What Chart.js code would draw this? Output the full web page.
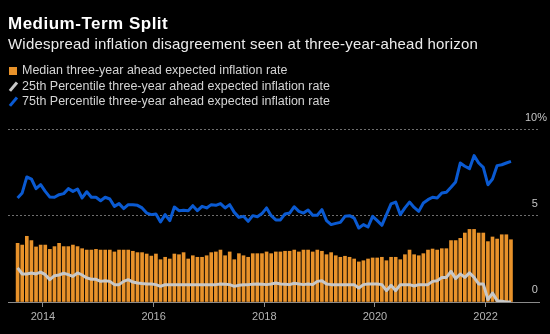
<!DOCTYPE html>
<html>
<head>
<meta charset="utf-8">
<script src="https://cdn.jsdelivr.net/npm/chart.js@4.4.0/dist/chart.umd.min.js"></script>
<style>
  html, body { margin: 0; padding: 0; background: #000; }
  body { width: 550px; height: 334px; position: relative; overflow: hidden;
         font-family: "Liberation Sans", Arial, sans-serif; }
  #chart { position: absolute; left: 0; top: 0; }
  .title { position: absolute; left: 8px; top: 14px; font-size: 17px; line-height: 20px;
           font-weight: bold; color: #fff; letter-spacing: 0.5px; white-space: nowrap; }
  .subtitle { position: absolute; left: 8px; top: 35px; font-size: 15px; line-height: 18px;
              color: #ececec; letter-spacing: 0.2px; white-space: nowrap; }
  .legend { position: absolute; left: 8px; top: 63px; font-size: 12.5px; line-height: 15.5px;
            color: #d4d4d4; white-space: nowrap; }
  .legend div { position: relative; padding-left: 14px; }
  .sq { position: absolute; left: 1px; top: 4px; width: 8px; height: 8px; background: #e8922a; }
  .sl { position: absolute; left: 4px; top: 2px; width: 2.5px; height: 11px; transform: rotate(40deg); }
</style>
</head>
<body>
<canvas id="chart" width="550" height="334"></canvas>
<div class="title">Medium-Term Split</div>
<div class="subtitle">Widespread inflation disagreement seen at three-year-ahead horizon</div>
<div class="legend">
  <div><span class="sq"></span>Median three-year ahead expected inflation rate</div>
  <div><span class="sl" style="background:#c8c8c8"></span>25th Percentile three-year ahead expected inflation rate</div>
  <div><span class="sl" style="background:#0a5ad2"></span>75th Percentile three-year ahead expected inflation rate</div>
</div>
<script>
// Datos mensuales, jul-2013 a jun-2022 (108 meses), en %
const median = [
    3.41, 3.31, 3.82, 3.57, 3.20, 3.31, 3.31, 3.06, 3.22, 3.41, 3.22, 3.22, 3.31, 3.22, 3.10, 3.02, 3.02, 3.06, 3.02, 3.02, 3.02,
    2.91, 3.02, 3.02, 3.02, 2.95, 2.87, 2.87, 2.79, 2.67, 2.79, 2.46, 2.60, 2.50, 2.79, 2.75, 2.87, 2.50, 2.69, 2.60, 2.60, 2.69, 2.87,
    2.91, 3.02, 2.69, 2.91, 2.46, 2.81, 2.69, 2.60, 2.81, 2.81, 2.81, 2.91, 2.81, 2.91, 2.91, 2.95, 2.95, 3.02, 2.91, 3.02, 3.02,
    2.91, 3.02, 2.95, 2.75, 2.87, 2.69, 2.60, 2.66, 2.60, 2.50, 2.33, 2.40, 2.50, 2.56, 2.56, 2.60, 2.40, 2.60, 2.60, 2.46, 2.75, 3.02,
    2.75, 2.69, 2.81, 3.02, 3.08, 3.02, 3.10, 3.10, 3.57, 3.57, 3.70, 4.01, 4.22, 4.22, 4.01, 4.01, 3.51, 3.78, 3.66, 3.91, 3.91, 3.62
];
const p25 = [
    1.98, 1.63, 1.63, 1.69, 1.63, 1.74, 1.59, 1.30, 1.53, 1.57, 1.67, 1.59, 1.49, 1.69, 1.57, 1.40, 1.32, 1.32, 1.20, 1.24, 1.20,
    1.01, 1.01, 1.20, 1.30, 1.16, 1.10, 1.07, 1.05, 1.05, 1.01, 0.91, 1.01, 1.01, 1.01, 1.01, 1.01, 1.01, 1.01, 1.01, 1.01, 1.01, 1.01,
    1.01, 1.05, 1.03, 1.01, 0.91, 0.97, 1.00, 1.01, 1.03, 1.05, 1.03, 1.01, 1.05, 1.10, 1.05, 1.03, 1.01, 1.09, 1.05, 1.01, 1.05,
    1.01, 1.20, 1.24, 1.05, 1.01, 1.01, 1.01, 1.01, 1.01, 1.01, 0.81, 1.01, 1.05, 1.05, 1.05, 1.01, 0.66, 0.97, 0.66, 1.01, 1.01, 1.01,
    0.93, 1.01, 1.01, 1.01, 1.20, 1.24, 1.43, 1.43, 1.78, 1.36, 1.63, 1.43, 1.69, 1.43, 1.05, 1.05, 0.14, 0.52, 0.08, 0.04, 0.00, 0.00
];
const p75 = [
    6.05, 6.34, 7.27, 7.15, 6.59, 6.82, 6.43, 6.10, 6.09, 6.24, 6.30, 6.59, 6.43, 6.57, 6.05, 6.41, 6.09, 6.09, 5.89, 6.09, 5.99,
    5.56, 5.72, 5.43, 5.66, 5.66, 5.62, 5.47, 5.17, 5.08, 5.12, 4.65, 5.08, 4.73, 5.52, 5.31, 5.33, 5.31, 5.60, 5.31, 5.56, 5.47, 5.66,
    5.62, 5.72, 5.47, 5.66, 5.21, 4.92, 4.98, 4.69, 5.02, 4.96, 5.14, 5.47, 5.02, 4.77, 4.77, 5.12, 5.17, 5.54, 5.27, 5.17, 5.35,
    5.04, 5.04, 5.37, 4.73, 4.50, 4.57, 4.63, 4.98, 5.02, 4.88, 4.30, 4.50, 4.36, 4.98, 4.73, 4.46, 5.08, 5.70, 5.81, 5.08, 5.47, 5.81,
    5.50, 5.27, 5.76, 5.95, 6.09, 6.05, 6.34, 6.38, 6.67, 6.98, 8.08, 7.89, 7.75, 8.51, 8.08, 7.83, 6.82, 7.15, 7.93, 7.98, 8.08, 8.18
];

// Ejes: enero de cada año par (índice de mes desde jul-2013)
const yearLabels = ['2014', '2016', '2018', '2020', '2022'];
const yearMonthIdx = [6, 30, 54, 78, 102];
const yTicks = [0, 5, 10];
const yLabels = ['0\u2007 ', '5\u2007 ', '10%'];

const ORANGE = '#e8922a';
const GRAY = '#c8c8c8';
const BLUE = '#0a5ad2';

// cada punto se pinta a mitad de mes
const toPoints = arr => arr.map((v, i) => ({ x: i + 0.5, y: v }));

const ctx = document.getElementById('chart').getContext('2d');
const chart = new Chart(ctx, {
    type: 'bar',
    data: {
        datasets: [
            {
                type: 'line',
                label: '75th Percentile',
                data: toPoints(p75),
                borderColor: BLUE,
                borderWidth: 3,
                pointRadius: 0,
                tension: 0,
                borderJoinStyle: 'round',
                order: 0
            },
            {
                type: 'line',
                label: '25th Percentile',
                data: toPoints(p25),
                borderColor: GRAY,
                borderWidth: 3,
                pointRadius: 0,
                tension: 0,
                borderJoinStyle: 'round',
                order: 1
            },
            {
                label: 'Median',
                data: toPoints(median),
                backgroundColor: ORANGE,
                barThickness: 3,
                order: 2
            }
        ]
    },
    options: {
        responsive: false,
        animation: false,
        devicePixelRatio: 1,
        layout: { padding: { left: 8, right: 0, top: 122, bottom: 0 } },
        plugins: { legend: { display: false }, tooltip: { enabled: false } },
        scales: {
            x: {
                type: 'linear',
                offset: false,
                min: -1.58,
                max: 113.58,
                afterBuildTicks: s => { s.ticks = yearMonthIdx.map(v => ({ value: v })); },
                afterFit: s => { s.height = 32; },
                ticks: {
                    callback: (v, i) => yearLabels[i],
                    color: '#b4b4b4',
                    font: { family: '"Liberation Sans", Arial, sans-serif', size: 11 },
                    padding: 3,
                    maxRotation: 0,
                    autoSkip: false
                },
                grid: { offset: false, drawOnChartArea: false, drawTicks: true, tickLength: 5, tickColor: '#8a8a8a' },
                border: { display: true, color: '#8a8a8a', width: 1 }
            },
            y: {
                position: 'right',
                min: 0,
                max: 10.465,
                afterBuildTicks: s => { s.ticks = yTicks.map(v => ({ value: v })); },
                afterFit: s => { s.width = 11; },
                ticks: {
                    callback: (v, i) => yLabels[i],
                    color: '#c4c4c4',
                    font: { family: '"Liberation Sans", Arial, sans-serif', size: 11 },
                    mirror: true,
                    crossAlign: 'near',
                    padding: 8,
                    labelOffset: -12
                },
                grid: {
                    drawTicks: false,
                    color: c => (c.tick && c.tick.value === 0) ? 'rgba(0,0,0,0)' : '#6e6e6e',
                    lineWidth: 1
                },
                border: { display: false, dash: [2, 2] }
            }
        }
    }
});
</script>
</body>
</html>
